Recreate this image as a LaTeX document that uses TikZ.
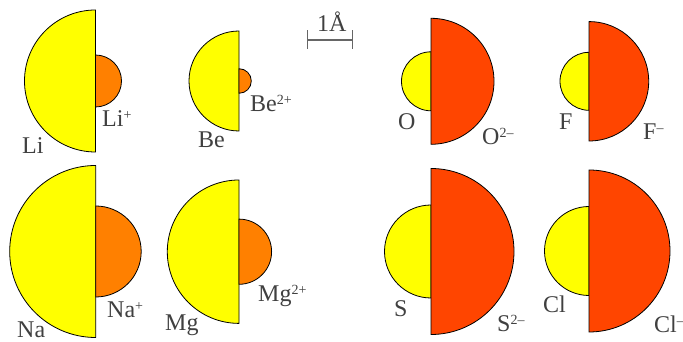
\documentclass[tikz,border=0pt]{standalone}
\usepackage{fontspec}
\setmainfont{Liberation Serif}
\definecolor{atomY}{HTML}{FFFF00}
\definecolor{ionO}{HTML}{FF8000}
\definecolor{ionR}{HTML}{FF4500}
\definecolor{txt}{HTML}{404040}
\newcommand\supx[1]{\raisebox{7pt}{\fontsize{14}{14}\selectfont #1}}
\begin{document}
\begin{tikzpicture}[x=1pt,y=1pt,
  halfl/.style={draw=black,line width=0.8pt,line join=round},
  lbl/.style={anchor=base west,inner sep=0pt,text=txt,font=\fontsize{24}{24}\selectfont},
  bar/.style={draw=txt!80,line width=1.2pt}]
\useasboundingbox (0,0) rectangle (683,342);
% left half: \halfL{cx}{cy}{r}{colour}, right half: \halfR
\def\halfL#1#2#3#4{\filldraw[halfl,fill=#4] (#1,#2+#3) arc[start angle=90,end angle=270,radius=#3] -- cycle;}
\def\halfR#1#2#3#4{\filldraw[halfl,fill=#4] (#1,#2+#3) arc[start angle=90,end angle=-90,radius=#3] -- cycle;}
% top row (cy = 261)
\halfL{95.5}{261}{71}{atomY}\halfR{95.5}{261}{26}{ionO}
\halfL{239}{261}{50}{atomY}\halfR{239}{261}{12.3}{ionO}
\halfL{431}{260.7}{29.5}{atomY}\halfR{431}{260.7}{63}{ionR}
\halfL{589}{260.7}{29}{atomY}\halfR{589}{260.7}{59.7}{ionR}
% bottom row (cy = 90.5)
\halfL{95.7}{90.5}{86}{atomY}\halfR{95.7}{90.5}{45.5}{ionO}
\halfL{239}{90.3}{71.7}{atomY}\halfR{239}{90.3}{32.6}{ionO}
\halfL{431}{90.5}{46.5}{atomY}\halfR{431}{90.5}{83}{ionR}
\halfL{589}{91}{44.5}{atomY}\halfR{589}{91}{81}{ionR}
% labels
\node[lbl] (li) at (22,188) {Li};
\node[lbl] (lip) at (102,215) {Li\supx{+}};
\node[lbl] (be) at (198,194) {Be};
\node[lbl] (bep) at (250,230) {Be\supx{2+}};
\node[lbl] (o) at (398,212) {O};
\node[lbl] (om) at (482,197) {O\supx{2–}};
\node[lbl] (f) at (559,212) {F};
\node[lbl] (fm) at (643,202) {F\supx{–}};
\node[lbl] (na) at (17,4) {Na};
\node[lbl] (nap) at (107,24) {Na\supx{+}};
\node[lbl] (mg) at (165,11) {Mg};
\node[lbl] (mgp) at (258,40) {Mg\supx{2+}};
\node[lbl] (s) at (394,25) {S};
\node[lbl] (sm) at (497,10) {S\supx{2–}};
\node[lbl] (cl) at (543,29) {Cl};
\node[lbl] (clm) at (654,9) {Cl\supx{–}};
% scale bar
\coordinate (sa) at (307.3,302);
\coordinate (sb) at (352.3,302);
\draw[bar] (sa) -- (sb);
\draw[bar] ([yshift=-9pt]sa) -- ([yshift=10pt]sa);
\draw[bar] ([yshift=-9pt]sb) -- ([yshift=10pt]sb);
\node[lbl] (scale) at (317,310) {1Å};
\end{tikzpicture}
\end{document}
